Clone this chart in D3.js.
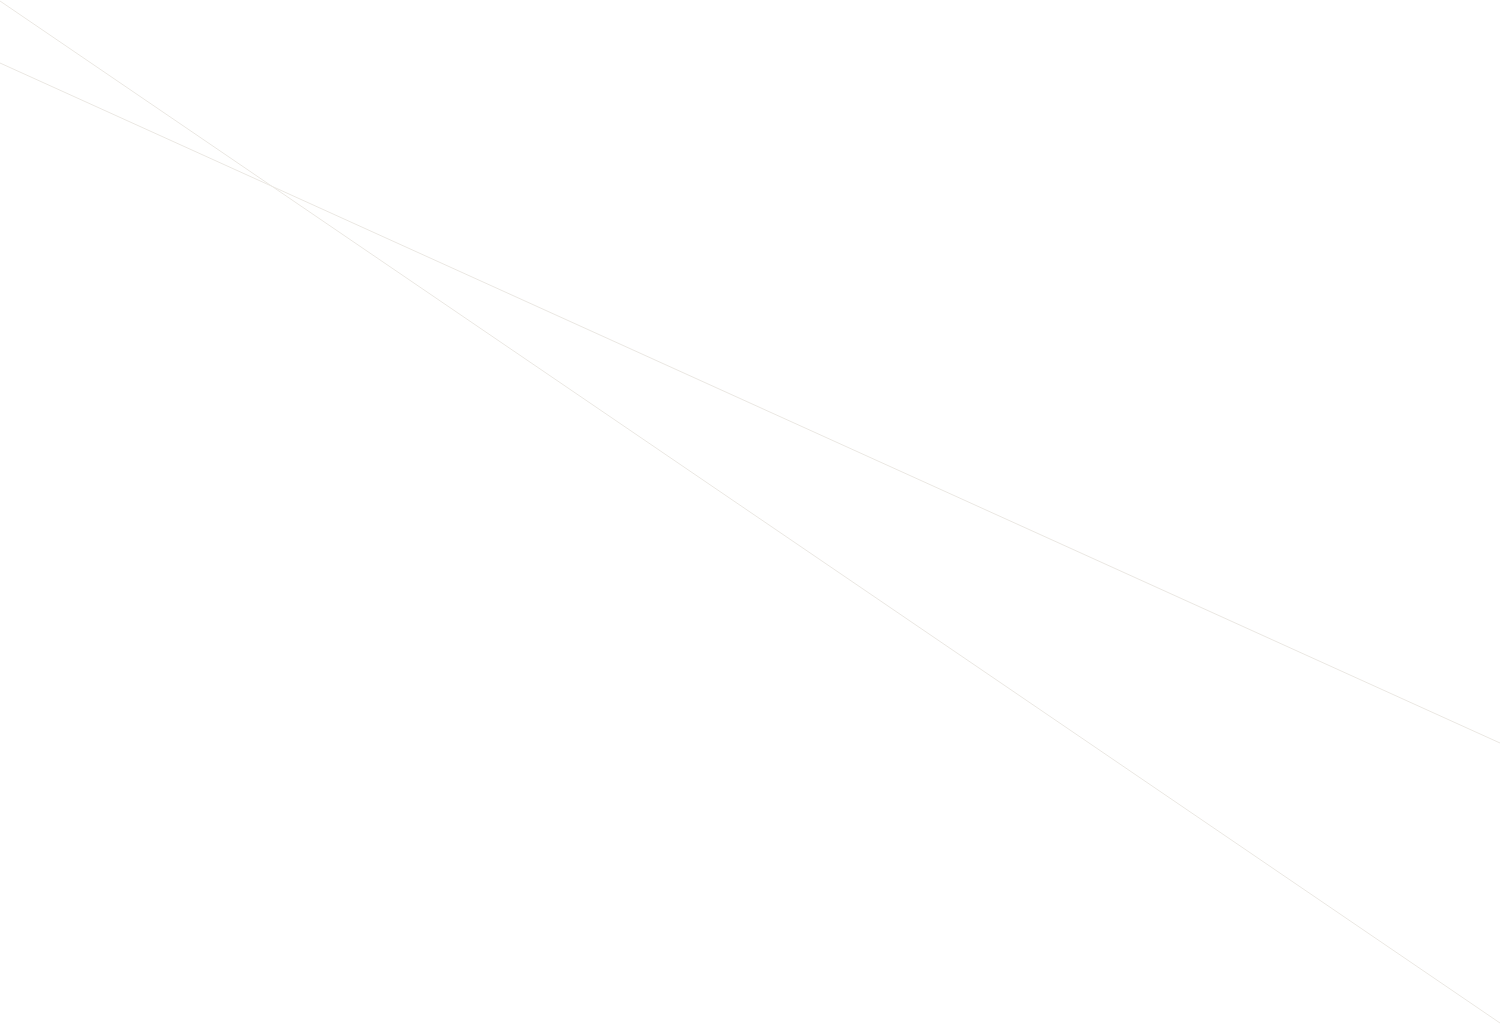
<!DOCTYPE html>
<html>
<head>
<meta charset="utf-8">
<script src="https://cdn.jsdelivr.net/npm/d3@7"></script>
<style>
  html, body { margin: 0; padding: 0; background: #fff; overflow: hidden; }
  .trend { fill: none; stroke: #ebe8e3; stroke-width: 1; }
</style>
</head>
<body>
<div id="viz"></div>
<script>
// Two series, each measured at a start and an end point
var steps = [0, 1];
var seriesA = [1, 1023];
var seriesB = [63, 743];

var width = 1500;
var height = 1026;

var svg = d3.select("#viz")
    .append("svg")
    .attr("width", width)
    .attr("height", height);

var x = d3.scaleLinear().domain([0, 1]).range([0, width]);
var y = d3.scaleLinear().domain([0, height]).range([0, height]);

var line = d3.line()
    .x(function(d, i) { return x(steps[i]); })
    .y(function(d) { return y(d); });

[seriesA, seriesB].forEach(function(s) {
  svg.append("path")
      .datum(s)
      .attr("class", "trend")
      .attr("d", line);
});
</script>
</body>
</html>
